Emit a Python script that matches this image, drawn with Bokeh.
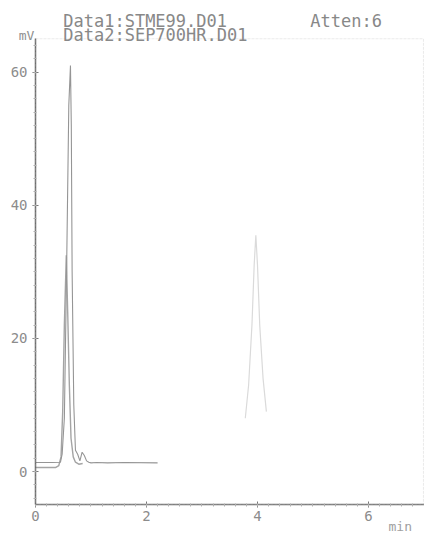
from bokeh.plotting import figure
from bokeh.models import Range1d, Label, FixedTicker, LinearAxis, BoxAnnotation
from bokeh.embed import file_html
from bokeh.resources import INLINE

# ---- data ----
# Data1: STME99.D01
t1 = [0.0, 0.30, 0.45, 0.48, 0.52, 0.56, 0.60, 0.63, 0.645, 0.66, 0.69, 0.72,
      0.76, 0.80, 0.84, 0.88, 0.92, 0.96, 1.00, 1.10, 1.30, 1.60, 2.20]
v1 = [1.35, 1.35, 1.4, 2.6, 8.0, 30.0, 55.0, 61.0, 52.0, 30.0, 10.0, 3.2,
      2.6, 1.6, 2.9, 2.4, 1.6, 1.4, 1.3, 1.35, 1.3, 1.35, 1.3]
# Data2: SEP700HR.D01
t2 = [0.0, 0.36, 0.42, 0.46, 0.49, 0.52, 0.555, 0.58, 0.61, 0.64, 0.68, 0.72, 0.78, 0.85]
v2 = [0.6, 0.6, 0.9, 2.2, 9.0, 22.0, 32.5, 24.0, 13.0, 5.0, 2.2, 1.4, 1.1, 1.2]
# late, faint peak near 4 min
t3 = [3.78, 3.84, 3.90, 3.94, 3.97, 4.00, 4.04, 4.10, 4.16]
v3 = [8.0, 13.0, 22.0, 31.0, 35.5, 31.0, 22.0, 14.0, 9.0]

x_ticks = [0, 2, 4, 6]
y_ticks = [0, 20, 40, 60]
header1 = "Data1:STME99.D01"
header2 = "Data2:SEP700HR.D01"
atten = "Atten:6"
y_unit = "mV"
x_unit = "min"

FONT = "DejaVu Sans Mono"

# plot window in data units (frame covers the whole canvas; axes fixed inside)
X0, X1 = -0.6306, 7.009
Y0, Y1 = -9.76, 70.75
XMIN, XMAX = 0.0, 7.2
YMIN, YMAX = -5.0, 65.0

p = figure(width=424, height=536, output_backend="svg", toolbar_location=None,
           x_range=Range1d(X0, X1), y_range=Range1d(Y0, Y1),
           x_axis_location=None, y_axis_location=None,
           min_border=0, min_border_left=0, min_border_right=0,
           min_border_top=0, min_border_bottom=0)
p.background_fill_color = "white"
p.border_fill_color = "white"
p.outline_line_color = None
p.xgrid.visible = False
p.ygrid.visible = False

xa = LinearAxis(fixed_location=YMIN, bounds=(XMIN, XMAX))
ya = LinearAxis(fixed_location=XMIN, bounds=(YMIN, YMAX))
p.add_layout(xa, "below")
p.add_layout(ya, "left")

for ax in (xa, ya):
    ax.major_label_text_font = FONT
    ax.major_label_text_font_size = "14px"
    ax.major_label_text_color = "#8c8c8c"
    ax.major_tick_line_color = "#777777"
    ax.minor_tick_line_color = "#b0b0b0"
    ax.major_tick_in = 3
    ax.major_tick_out = 3
    ax.minor_tick_in = 1
    ax.minor_tick_out = 2

xa.ticker = FixedTicker(ticks=x_ticks, minor_ticks=[i * 0.2 for i in range(36)])
ya.ticker = FixedTicker(ticks=y_ticks, minor_ticks=list(range(-4, 65, 2)))
xa.axis_line_color = "#7a7a7a"
xa.axis_line_width = 1.5
ya.axis_line_color = "#666666"
ya.axis_line_width = 1.5
xa.major_label_standoff = 3
ya.major_label_standoff = 5

# dashed frame border (top / right)
p.add_layout(BoxAnnotation(left=XMIN, right=6.99, bottom=YMIN, top=YMAX, fill_color=None,
                           line_color="#b8b8b8", line_dash="3 1", line_width=1))

# traces
p.line(t2, v2, line_color="#a4a4a4", line_width=1.4)
p.line(t1, v1, line_color="#959595", line_width=1.1)
p.line(t3, v3, line_color="#dadada", line_width=1.2)

def lab(x, y, text, size="17px", align="left", color="#888888"):
    p.add_layout(Label(x=x, y=y, text=text, text_font=FONT, text_font_size=size,
                       text_color=color, text_align=align, text_baseline="alphabetic"))

lab(0.50, 67.7, header1)
lab(4.95, 67.7, atten)
lab(0.50, 65.6, header2)
lab(-0.02, 65.5, y_unit, size="13px", align="right", color="#909090")
lab(6.36, -8.3, x_unit, size="13px", color="#a0a0a0")

open("out.html", "w").write(file_html(p, INLINE))
